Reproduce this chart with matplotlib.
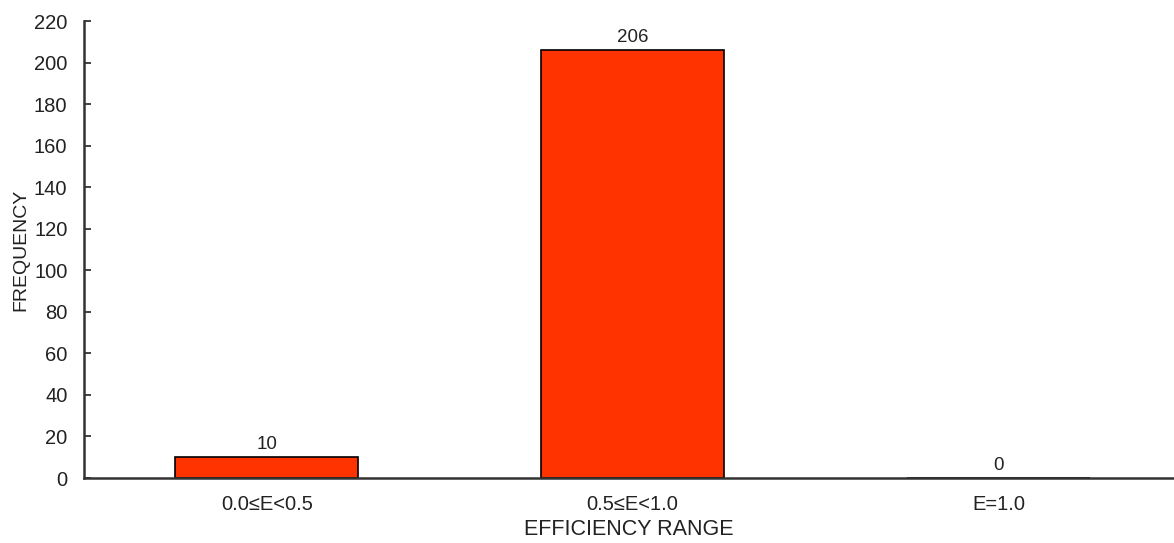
import matplotlib
matplotlib.use('Agg')
import matplotlib.pyplot as plt
import numpy as np

# Data
categories = ['0.0≤E<0.5', '0.5≤E<1.0', 'E=1.0']
frequency = [10, 206, 0]

plt.rcParams['font.family'] = ['Liberation Sans', 'DejaVu Sans']

fig = plt.figure(figsize=(11.74, 5.43), dpi=100)
ax = fig.add_axes([0.0716, 0.1197, 0.9284, 0.8413])

x = np.arange(len(categories))
bars = ax.bar(x, frequency, width=0.5, color='#FF3300', edgecolor='black', linewidth=1.2)

for xi, v in zip(x, frequency):
    ax.annotate(str(v), xy=(xi, v), xytext=(0, 3), textcoords='offset points',
                ha='center', va='bottom', fontsize=13.5, color='#222222')

ax.set_xlim(-0.5, 2.48)
ax.set_ylim(0, 220)
ax.set_yticks(np.arange(0, 221, 20))
ax.set_xticks(x)
ax.set_xticklabels(categories)
ax.tick_params(axis='y', direction='in', length=5, width=1.2, labelsize=14.5, pad=12, colors='#222222')
ax.tick_params(axis='x', length=0, labelsize=14.5, pad=12, colors='#222222')
for side in ['top', 'right']:
    ax.spines[side].set_visible(False)
for side in ['left', 'bottom']:
    ax.spines[side].set_linewidth(1.8)
    ax.spines[side].set_color('#333333')

ax.set_xlabel('EFFICIENCY RANGE', fontsize=15.5, labelpad=4, color='#222222')
ax.set_ylabel('FREQUENCY', fontsize=14, labelpad=3, color='#222222')

fig.savefig('out.png', dpi=100)
